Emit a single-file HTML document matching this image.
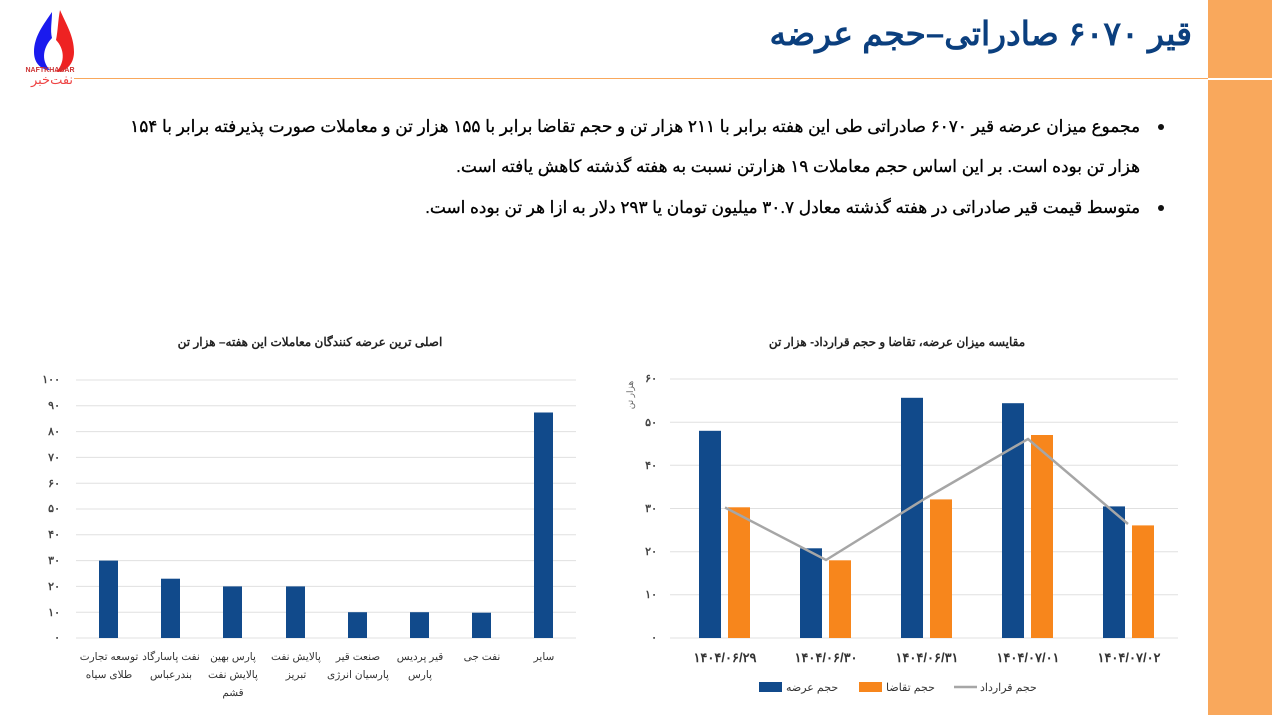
<!DOCTYPE html>
<html><head><meta charset="utf-8"><style>
body{margin:0;width:1272px;height:715px;background:#fff;position:relative;overflow:hidden;font-family:"Liberation Sans","Noto Sans CJK SC",sans-serif}
.band{position:absolute;left:1208px;top:0;width:64px;height:715px;background:#F9A85C}
.bandline{position:absolute;left:1208px;top:78px;width:64px;height:2px;background:#fff}
.hr{position:absolute;left:74px;top:78px;width:1134px;height:1px;background:#F9A85C}
.title{position:absolute;right:80px;top:14px;direction:rtl;font-size:33px;font-weight:bold;color:#0B3F7E;white-space:nowrap}
.p{position:absolute;right:132px;direction:rtl;font-size:16.9px;color:#000;white-space:nowrap;-webkit-text-stroke:0.3px #000}
.dot{position:absolute;left:1158px;width:6px;height:6px;border-radius:3px;background:#111}
svg{position:absolute;left:0;top:0}
svg text{font-family:"Liberation Sans","Noto Sans CJK SC",sans-serif}
</style></head><body>
<div class="band"></div><div class="bandline"></div><div class="hr"></div>
<svg width="100" height="90">
<path d="M52 12 C44 24 34 36 34 52 C34 64 42 70 50 70 C40 60 44 46 52 38 C50 30 52 22 52 12Z" fill="#1a1aee"/>
<path d="M60 10 C66 24 74 36 74 52 C74 64 66 72 56 72 C66 62 64 48 56 40 C58 30 58 20 60 10Z" fill="#ee2222"/>
<text x="50" y="72" font-size="7" font-weight="bold" fill="#c33" text-anchor="middle">NAFTKHABAR</text>
<text x="52" y="84" font-size="13" fill="#e44" text-anchor="middle">نفت‌خبر</text>
</svg>
<div class="title">قیر ۶۰۷۰ صادراتی–حجم عرضه</div>
<div class="dot" style="top:124px"></div>
<div class="dot" style="top:205px"></div>
<div class="p" style="top:116px">مجموع میزان عرضه قیر ۶۰۷۰ صادراتی طی این هفته برابر با ۲۱۱ هزار تن و حجم تقاضا برابر با ۱۵۵ هزار تن و معاملات صورت پذیرفته برابر با ۱۵۴</div>
<div class="p" style="top:156px">هزار تن بوده است. بر این اساس حجم معاملات ۱۹ هزارتن نسبت به هفته گذشته کاهش یافته است.</div>
<div class="p" style="top:197px">متوسط قیمت قیر صادراتی در هفته گذشته معادل ۳۰.۷ میلیون تومان یا ۲۹۳ دلار به ازا هر تن بوده است.</div>

<svg width="1272" height="715">
<g font-size="12" font-weight="bold" fill="#222" text-anchor="middle">
<text x="310" y="346" direction="rtl">اصلی ترین عرضه کنندگان معاملات این هفته– هزار تن</text>
<text x="897" y="346" direction="rtl">مقایسه میزان عرضه، تقاضا و حجم قرارداد-  هزار تن</text>
</g>
<g stroke="#e0e0e0" stroke-width="1">
<line x1="76" x2="576" y1="380" y2="380"/><line x1="76" x2="576" y1="405.8" y2="405.8"/><line x1="76" x2="576" y1="431.6" y2="431.6"/><line x1="76" x2="576" y1="457.4" y2="457.4"/><line x1="76" x2="576" y1="483.2" y2="483.2"/><line x1="76" x2="576" y1="509" y2="509"/><line x1="76" x2="576" y1="534.8" y2="534.8"/><line x1="76" x2="576" y1="560.6" y2="560.6"/><line x1="76" x2="576" y1="586.4" y2="586.4"/><line x1="76" x2="576" y1="612.2" y2="612.2"/><line x1="76" x2="576" y1="638" y2="638"/>
</g>
<g font-size="11" fill="#444" text-anchor="end" font-weight="bold">
<text x="60" y="383">۱۰۰</text><text x="60" y="409">۹۰</text><text x="60" y="435">۸۰</text><text x="60" y="461">۷۰</text><text x="60" y="487">۶۰</text><text x="60" y="512">۵۰</text><text x="60" y="538">۴۰</text><text x="60" y="564">۳۰</text><text x="60" y="590">۲۰</text><text x="60" y="616">۱۰</text><text x="60" y="641">۰</text>
</g>
<g fill="#114A8B">
<rect x="99" y="560.6" width="19" height="77.4"/>
<rect x="161" y="578.7" width="19" height="59.3"/>
<rect x="223" y="586.4" width="19" height="51.6"/>
<rect x="286" y="586.4" width="19" height="51.6"/>
<rect x="348" y="612.2" width="19" height="25.8"/>
<rect x="410" y="612.2" width="19" height="25.8"/>
<rect x="472" y="612.7" width="19" height="25.3"/>
<rect x="534" y="412.5" width="19" height="225.5"/>
</g>
<g font-size="10.5" fill="#333" text-anchor="middle" direction="rtl">
<text x="109" y="660">توسعه تجارت</text><text x="109" y="678">طلای سیاه</text>
<text x="171" y="660">نفت پاسارگاد</text><text x="171" y="678">بندرعباس</text>
<text x="233" y="660">پارس بهین</text><text x="233" y="678">پالایش نفت</text><text x="233" y="696">قشم</text>
<text x="296" y="660">پالایش نفت</text><text x="296" y="678">تبریز</text>
<text x="358" y="660">صنعت قیر</text><text x="358" y="678">پارسیان انرژی</text>
<text x="420" y="660">قیر پردیس</text><text x="420" y="678">پارس</text>
<text x="482" y="660">نفت جی</text>
<text x="544" y="660">سایر</text>
</g>
<g stroke="#e0e0e0" stroke-width="1">
<line x1="670" x2="1178" y1="379" y2="379"/><line x1="670" x2="1178" y1="422.2" y2="422.2"/><line x1="670" x2="1178" y1="465.3" y2="465.3"/><line x1="670" x2="1178" y1="508.5" y2="508.5"/><line x1="670" x2="1178" y1="551.7" y2="551.7"/><line x1="670" x2="1178" y1="594.8" y2="594.8"/><line x1="670" x2="1178" y1="638" y2="638"/>
</g>
<g font-size="11" fill="#444" text-anchor="end" font-weight="bold">
<text x="657" y="382">۶۰</text><text x="657" y="426">۵۰</text><text x="657" y="469">۴۰</text><text x="657" y="512">۳۰</text><text x="657" y="555">۲۰</text><text x="657" y="598">۱۰</text><text x="657" y="641">۰</text>
</g>
<text x="0" y="0" font-size="9" fill="#666" transform="translate(633,395) rotate(-90)" text-anchor="middle" direction="rtl">هزار تن</text>
<g fill="#114A8B">
<rect x="699" y="430.8" width="22" height="207.2"/>
<rect x="800" y="548.3" width="22" height="89.7"/>
<rect x="901" y="397.8" width="22" height="240.2"/>
<rect x="1002" y="403.2" width="22" height="234.8"/>
<rect x="1103" y="506.4" width="22" height="131.6"/>
</g>
<g fill="#F7861C">
<rect x="728" y="507.3" width="22" height="130.7"/>
<rect x="829" y="560.3" width="22" height="77.7"/>
<rect x="930" y="499.4" width="22" height="138.6"/>
<rect x="1031" y="435" width="22" height="203"/>
<rect x="1132" y="525.4" width="22" height="112.6"/>
</g>
<polyline points="725,507.5 826,560 926,498 1028,439 1128,524" fill="none" stroke="#A6A6A6" stroke-width="2.5"/>
<g font-size="13" fill="#333" text-anchor="middle" font-weight="bold">
<text x="725" y="662">۱۴۰۴/۰۶/۲۹</text><text x="826" y="662">۱۴۰۴/۰۶/۳۰</text><text x="927" y="662">۱۴۰۴/۰۶/۳۱</text><text x="1028" y="662">۱۴۰۴/۰۷/۰۱</text><text x="1129" y="662">۱۴۰۴/۰۷/۰۲</text>
</g>
<rect x="759" y="682" width="23" height="10" fill="#114A8B"/>
<text x="786" y="691" font-size="11" fill="#333" direction="rtl" text-anchor="end">حجم عرضه</text>
<rect x="859" y="682" width="23" height="10" fill="#F7861C"/>
<text x="886" y="691" font-size="11" fill="#333" direction="rtl" text-anchor="end">حجم تقاضا</text>
<line x1="954" x2="977" y1="687" y2="687" stroke="#A6A6A6" stroke-width="2.5"/>
<text x="980" y="691" font-size="11" fill="#333" direction="rtl" text-anchor="end">حجم قرارداد</text>
</svg>
</body></html>
